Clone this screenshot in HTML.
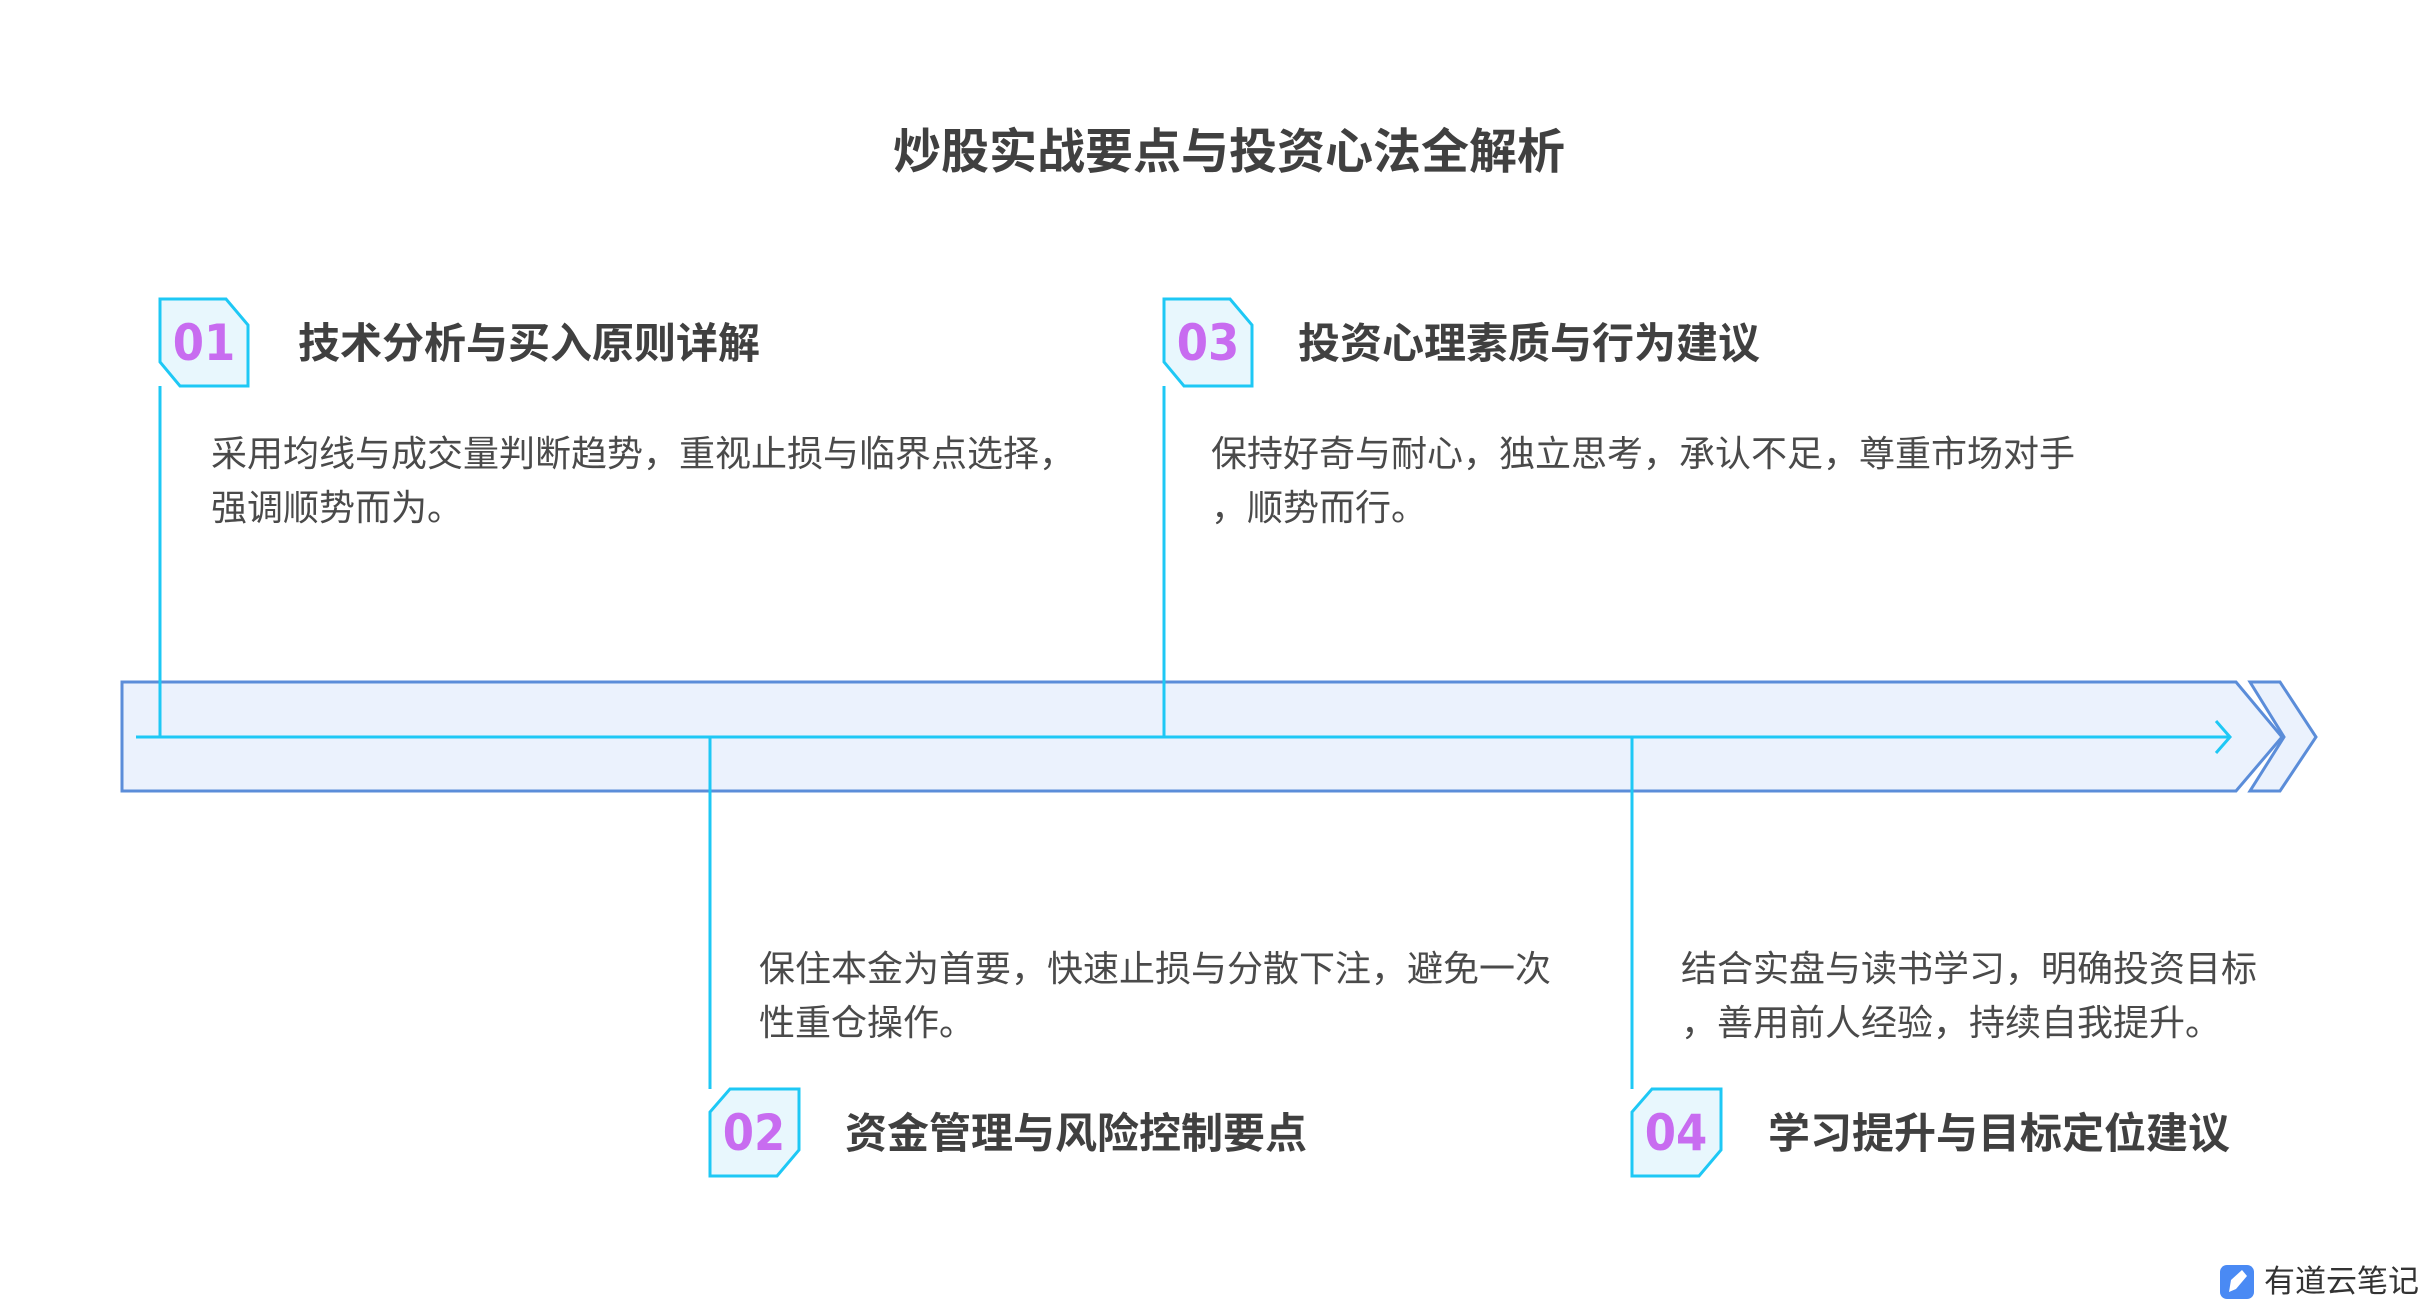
<!DOCTYPE html>
<html><head><meta charset="utf-8"><style>
body{margin:0;width:2430px;height:1308px;background:#fff;position:relative;overflow:hidden;font-family:"Liberation Sans","Noto Sans CJK SC",sans-serif;}
.t{position:absolute;white-space:nowrap;color:#404040;}
.h{font-size:42px;font-weight:bold;line-height:50px;}
.b{font-size:36px;line-height:54px;color:#4a4a4a;}
.n{position:absolute;font-size:50px;color:#c86cf0;width:88px;text-align:center;line-height:88px;font-family:"DejaVu Sans Condensed","Liberation Sans Narrow",sans-serif;font-weight:bold;}
</style></head><body>
<svg width="2430" height="1308" style="position:absolute;left:0;top:0">
<polygon points="2250,682 2280,682 2316,737 2280,791 2250,791 2284,737" fill="#ebf2fd" stroke="#5b8dd9" stroke-width="3"/>
<polygon points="122,682 2236,682 2282,737 2236,791 122,791" fill="#ebf2fd" stroke="#5b8dd9" stroke-width="3"/>
<g stroke="#1ec8f5" stroke-width="3" fill="none">
<line x1="136" y1="737" x2="2230" y2="737"/>
<polyline points="2216,721 2230,737 2216,753"/>
<line x1="160" y1="386" x2="160" y2="737"/>
<line x1="1164" y1="386" x2="1164" y2="737"/>
<line x1="710" y1="737" x2="710" y2="1089"/>
<line x1="1632" y1="737" x2="1632" y2="1089"/>
</g>
<g fill="#e8f7fd" stroke="#1ec8f5" stroke-width="3">
<polygon points="160,299 226,299 248,325 248,386 180,386 160,362"/>
<polygon points="1164,299 1230,299 1252,325 1252,386 1184,386 1164,362"/>
<polygon points="730,1089 799,1089 799,1150 777,1176 710,1176 710,1112"/>
<polygon points="1652,1089 1721,1089 1721,1150 1699,1176 1632,1176 1632,1112"/>
</g>
<rect x="2220" y="1265" width="34" height="34" rx="7" fill="#4a8af4"/>
<polygon points="2229,1292 2231,1280 2242,1270 2247,1276 2236,1289" fill="#fff"/>
</svg>
<div class="t" style="left:0;width:2458px;text-align:center;top:124px;font-size:48px;font-weight:bold;line-height:58px;">炒股实战要点与投资心法全解析</div>
<div class="n" style="left:160px;top:299px">01</div>
<div class="n" style="left:1164px;top:299px">03</div>
<div class="n" style="left:710px;top:1089px">02</div>
<div class="n" style="left:1632px;top:1089px">04</div>
<div class="t h" style="left:298px;top:319px">技术分析与买入原则详解</div>
<div class="t h" style="left:1298px;top:319px">投资心理素质与行为建议</div>
<div class="t h" style="left:845px;top:1109px">资金管理与风险控制要点</div>
<div class="t h" style="left:1768px;top:1109px">学习提升与目标定位建议</div>
<div class="t b" style="left:211px;top:427px">采用均线与成交量判断趋势，重视止损与临界点选择，<br>强调顺势而为。</div>
<div class="t b" style="left:1211px;top:427px">保持好奇与耐心，独立思考，承认不足，尊重市场对手<br>，顺势而行。</div>
<div class="t b" style="left:759px;top:942px">保住本金为首要，快速止损与分散下注，避免一次<br>性重仓操作。</div>
<div class="t b" style="left:1681px;top:942px">结合实盘与读书学习，明确投资目标<br>，善用前人经验，持续自我提升。</div>
<div class="t" style="left:2264px;top:1263px;font-size:31px;line-height:38px;color:#333">有道云笔记</div>
</body></html>
